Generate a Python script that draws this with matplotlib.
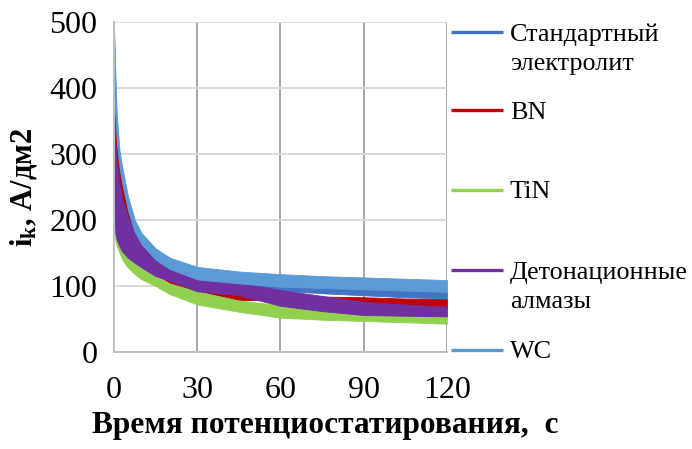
import numpy as np
import matplotlib
matplotlib.use("Agg")
import matplotlib.pyplot as plt

plt.rcParams["font.family"] = ["Liberation Serif", "DejaVu Serif"]
plt.rcParams["mathtext.fontset"] = "custom"
plt.rcParams["mathtext.rm"] = "Liberation Serif"
plt.rcParams["mathtext.bf"] = "Liberation Serif:bold"

# time points, s
t = [0, 0.5, 1, 2, 3, 5, 7.5, 10, 15, 20, 30, 45, 60, 75, 90, 105, 120]

# current density envelopes (upper / lower edge of the noisy trace), A/dm2
std_hi = [480, 400, 345, 298, 272, 230, 195, 175, 152, 138, 124, 113, 102, 99, 97, 94, 91]
std_lo = [380, 350, 310, 272, 248, 210, 178, 158, 136, 122, 108, 101, 93, 89, 86, 83, 81]

bn_hi = [372, 340, 310, 272, 250, 215, 185, 165, 140, 125, 96, 89, 86, 84, 83, 81, 80]
bn_lo = [300, 280, 260, 235, 220, 190, 160, 140, 118, 105, 85, 79, 78, 74, 71, 68, 66]

tin_hi = [245, 225, 205, 180, 165, 150, 138, 128, 115, 104, 92, 78, 71, 65, 60, 58, 56]
tin_lo = [200, 170, 160, 150, 140, 128, 118, 110, 100, 88, 72, 61, 52, 49, 47, 45, 43]

det_hi = [362, 315, 290, 255, 232, 206, 184, 170, 155, 143, 114, 105, 94, 85, 76, 72, 69]
det_lo = [245, 180, 170, 160, 152, 143, 135, 128, 115, 108, 92, 86, 70, 62, 56, 55, 54]

wc_hi = [500, 420, 360, 305, 280, 237, 200, 180, 157, 143, 129, 122, 118, 115, 113, 111, 109]
wc_lo = [372, 360, 320, 280, 255, 215, 182, 163, 140, 126, 110, 104, 99, 97, 95, 93, 91]

labels = ["Стандартный\nэлектролит", "BN", "TiN", "Детонационные\nалмазы", "WC"]
colors = ["#4472C4", "#C00000", "#92D050", "#7030A0", "#5B9BD5"]
bands = [(std_lo, std_hi), (bn_lo, bn_hi), (tin_lo, tin_hi),
         (det_lo, det_hi), (wc_lo, wc_hi)]

x_ticks = [0, 30, 60, 90, 120]
y_ticks = [0, 100, 200, 300, 400, 500]

fig = plt.figure(figsize=(6.92, 4.49), dpi=100)
ax = fig.add_axes([0.1647, 0.216, 0.4812, 0.735])

for (lo, hi), c in zip(bands, colors):
    ax.fill_between(t, lo, hi, color=c, lw=0.6, edgecolor=c)

ax.set_xlim(0, 120)
ax.set_ylim(0, 500)
ax.set_xticks(x_ticks)
ax.set_yticks(y_ticks)
ax.tick_params(axis="both", length=0, labelsize=23)
ax.tick_params(axis="x", pad=17)
ax.tick_params(axis="y", pad=12)

ax.set_axisbelow(True)
ax.grid(axis="x", color="#A6A6A6", lw=1.4)
ax.grid(axis="y", color="#D9D9D9", lw=1.4)
for side in ["top", "right"]:
    ax.spines[side].set_visible(False)
for side in ["left", "bottom"]:
    ax.spines[side].set_color("#BFBFBF")
    ax.spines[side].set_linewidth(1.4)

ax.set_xlabel("Время потенциостатирования,  с", fontsize=22.6, fontweight="bold")
ax.xaxis.set_label_coords(0.633, -0.178)
ax.set_ylabel(r"$\mathbf{i_k}$, А/дм2", fontsize=22, fontweight="bold")
ax.yaxis.set_label_coords(-0.226, 0.5)

# legend drawn by hand to the right of the plot area
leg_y = [0.97, 0.733, 0.491, 0.248, 0.006]
for y, lab, c in zip(leg_y, labels, colors):
    ax.plot([1.012, 1.168], [y, y], color=c, lw=2.4, transform=ax.transAxes,
            clip_on=False, solid_capstyle="butt")
    ax.text(1.189, y + 0.026, lab, transform=ax.transAxes, fontsize=18.8,
            va="top", ha="left", linespacing=1.42)

fig.savefig("out.png", dpi=100)
